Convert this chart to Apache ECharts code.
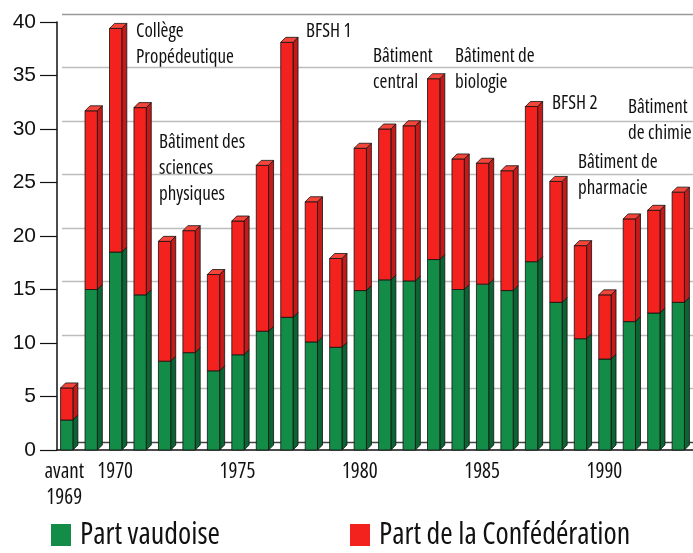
<!DOCTYPE html>
<html>
<head>
<meta charset="utf-8">
<script src="https://cdn.jsdelivr.net/npm/echarts@6/dist/echarts.min.js"></script>
<style>
  body { margin: 0; background: #fff; }
  #chart { width: 693px; height: 553px; }
</style>
</head>
<body>
<div id="chart"></div>
<script>
// années
var years = ['avant 1969', '1969', '1970', '1971', '1972', '1973', '1974', '1975', '1976', '1977', '1978', '1979', '1980',
  '1981', '1982', '1983', '1984', '1985', '1986', '1987', '1988', '1989', '1990', '1991', '1992', '1993']
// part vaudoise (vert)
var vaud = [2.8, 15.0, 18.5, 14.5, 8.3, 9.1, 7.4, 8.9, 11.1, 12.4, 10.1, 9.6, 14.9,
  15.9, 15.8, 17.8, 15.0, 15.5, 14.9, 17.6, 13.8, 10.4, 8.5, 12.0, 12.8, 13.8]
// part de la Confédération (rouge)
var conf = [3.0, 16.7, 20.9, 17.5, 11.2, 11.4, 9.0, 12.5, 15.5, 25.7, 13.1, 8.3, 13.3,
  14.1, 14.5, 16.9, 12.2, 11.3, 11.2, 14.5, 11.3, 8.7, 6.0, 9.6, 9.6, 10.3]
var yTicks = [0, 5, 10, 15, 20, 25, 30, 35, 40]
var shownYears = ['avant 1969', '1970', '1975', '1980', '1985', '1990']
var notes = ['Collège\nPropédeutique', 'Bâtiment des\nsciences\nphysiques', 'BFSH 1', 'Bâtiment\ncentral',
  'Bâtiment de\nbiologie', 'BFSH 2', 'Bâtiment\nde chimie', 'Bâtiment de\npharmacie']

// police étroite : Open Sans en largeur "condensed"
var COND = '"Open Sans"'
var GREEN = '#138c48'
var GREEN_SIDE = '#0b6532'
var RED = '#f3221f'
var RED_SIDE = '#c51a1a'
var RED_TOP = '#f4453a'
var DX = 5
var DY = 5

function barItem (isRed) {
  return function (params, api) {
    var i = api.value(0)
    var base = isRed ? api.value(1) : 0
    var top = base + (isRed ? api.value(2) : api.value(1))
    var pb = api.coord([i, base])
    var pt = api.coord([i, top])
    var w = 12.3
    var x0 = pb[0] - (w + DX) / 2
    var x1 = x0 + w
    var line = { stroke: '#111', lineWidth: 0.8 }
    var children = [
      {
        type: 'polygon',
        shape: { points: [[x1, pb[1]], [x1 + DX, pb[1] - DY], [x1 + DX, pt[1] - DY], [x1, pt[1]]] },
        style: Object.assign({ fill: isRed ? RED_SIDE : GREEN_SIDE }, line)
      },
      {
        type: 'rect',
        shape: { x: x0, y: pt[1], width: w, height: pb[1] - pt[1] },
        style: Object.assign({ fill: isRed ? RED : GREEN }, line)
      }
    ]
    if (isRed) {
      children.push({
        type: 'polygon',
        shape: { points: [[x0, pt[1]], [x0 + DX, pt[1] - DY], [x1 + DX, pt[1] - DY], [x1, pt[1]]] },
        style: Object.assign({ fill: RED_TOP }, line)
      })
    }
    return { type: 'group', children: children }
  }
}

var data = years.map(function (y, i) { return [i, vaud[i], conf[i]] })

var notePos = [[136, 19], [159, 130], [306, 19], [373, 44], [455, 44], [552, 91], [628, 95], [578, 150]]
var graphic = notes.map(function (t, k) {
  return {
    type: 'text',
    left: notePos[k][0],
    top: notePos[k][1],
    style: { text: t, font: 'normal condensed 19px ' + COND, fill: '#111', lineHeight: 26 }
  }
})

var legendText = { fontSize: 30, fontFamily: COND, fontWeight: 'condensed', color: '#111', padding: [0, 0, 0, 4] }

var chart = echarts.init(document.getElementById('chart'))
var option = {
  animation: false,
  backgroundColor: '#fff',
  grid: [
    { left: 57, top: 22, width: 637, height: 428 },
    { left: 62, top: 14, width: 640, height: 428 }
  ],
  legend: [
    {
      data: ['Part vaudoise'],
      left: 51,
      bottom: 3,
      padding: 0,
      icon: 'rect',
      itemWidth: 20,
      itemHeight: 22,
      textStyle: legendText
    },
    {
      data: ['Part de la Confédération'],
      left: 350,
      bottom: 3,
      padding: 0,
      icon: 'rect',
      itemWidth: 20,
      itemHeight: 22,
      textStyle: legendText
    }
  ],
  xAxis: [
    {
      type: 'category',
      gridIndex: 0,
      data: years,
      axisTick: { show: false },
      axisLine: { lineStyle: { color: '#111', width: 1.5 } },
      axisLabel: {
        interval: function (i, v) { return shownYears.indexOf(v) >= 0 },
        showMinLabel: true,
        hideOverlap: false,
        margin: 9,
        formatter: function (v) {
          if (v === 'avant 1969') return '{a|avant}\n{a|1969}'
          return '{b|' + v + '}'
        },
        rich: {
          a: { fontSize: 21, fontFamily: COND, fontWeight: 'condensed', color: '#111', lineHeight: 26, padding: [0, 10, 0, 0] },
          b: { fontSize: 21, fontFamily: COND, fontWeight: 'condensed', color: '#111', lineHeight: 26, padding: [0, 6, 0, 0] }
        }
      }
    },
    { type: 'category', gridIndex: 1, data: years, show: false }
  ],
  yAxis: [
    {
      type: 'value',
      gridIndex: 0,
      min: 0,
      max: 40,
      interval: 5,
      splitLine: { show: false },
      axisLine: { show: true, lineStyle: { color: '#111', width: 1.5 } },
      axisTick: { show: true, length: 17, lineStyle: { color: '#111', width: 1.2 } },
      axisLabel: {
        margin: 21,
        fontSize: 21,
        fontFamily: '"Liberation Sans", Arial, sans-serif',
        color: '#111',
        formatter: function (v) { return yTicks.indexOf(v) >= 0 ? String(v) : '' }
      }
    },
    {
      type: 'value',
      gridIndex: 1,
      min: 0,
      max: 40,
      interval: 5,
      axisLine: { show: false },
      axisTick: { show: false },
      axisLabel: { show: false },
      splitLine: {
        lineStyle: {
          color: ['#444', '#bdbdbd', '#bdbdbd', '#bdbdbd', '#bdbdbd', '#bdbdbd', '#bdbdbd', '#bdbdbd', '#999'],
          width: 1.3
        }
      }
    }
  ],
  series: [
    {
      name: 'Part vaudoise',
      type: 'custom',
      xAxisIndex: 0,
      yAxisIndex: 0,
      itemStyle: { color: GREEN },
      renderItem: barItem(false),
      encode: { x: 0, y: 1 },
      data: data
    },
    {
      name: 'Part de la Confédération',
      type: 'custom',
      xAxisIndex: 0,
      yAxisIndex: 0,
      itemStyle: { color: RED },
      renderItem: barItem(true),
      encode: { x: 0, y: [1, 2] },
      data: data
    }
  ],
  graphic: graphic
}
chart.setOption(option)
</script>
</body>
</html>
